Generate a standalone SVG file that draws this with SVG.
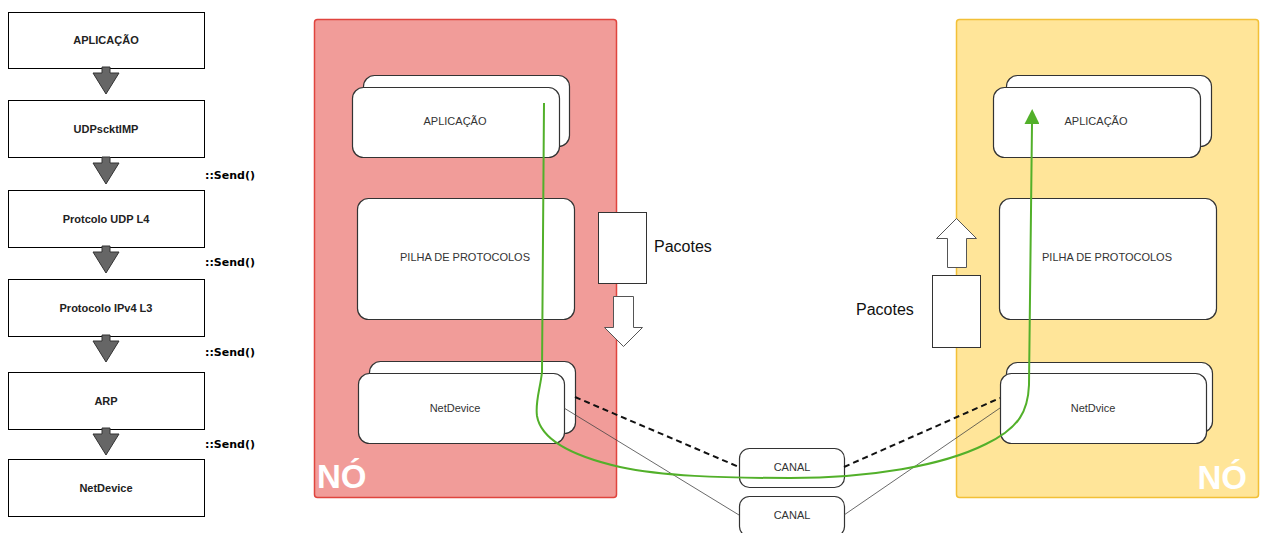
<svg xmlns="http://www.w3.org/2000/svg" width="1264" height="533" viewBox="0 0 1264 533">
  <style>
    .layer { fill: #ffffff; stroke: #000000; stroke-width: 1; }
    .layer-label { font-family: "Liberation Sans", Arial, sans-serif; font-size: 11px; font-weight: bold; fill: #222222; text-anchor: middle; }
    .call { font-family: "DejaVu Sans", Verdana, sans-serif; font-size: 11px; font-weight: bold; fill: #000000; }
    .step { fill: #666666; stroke: #333333; stroke-width: 1; stroke-linejoin: miter; }
    .box { fill: #ffffff; stroke: #333333; stroke-width: 1.2; }
    .box-label { font-family: "Liberation Sans", Arial, sans-serif; font-size: 11px; fill: #333333; text-anchor: middle; }
    .node-title { font-family: "Liberation Sans", Arial, sans-serif; font-size: 33px; font-weight: bold; fill: #ffffff; }
    .pkt { fill: #ffffff; stroke: #333333; stroke-width: 1; }
    .pkt-label { font-family: "Liberation Sans", Arial, sans-serif; font-size: 16px; fill: #111111; }
    .flow-arrow { fill: #ffffff; stroke: #555555; stroke-width: 1; }
    .link-dash { fill: none; stroke: #111111; stroke-width: 2; stroke-dasharray: 6 4; }
    .link-thin { fill: none; stroke: #444444; stroke-width: 0.8; }
    .path-green { fill: none; stroke: #52b02a; stroke-width: 2; }
  </style>
  <defs>
    <polygon id="step-arrow" class="step" points="-4,0 4,0 4,6 13,6 0,27 -13,6 -4,6"/>
    <marker id="green-head" viewBox="0 0 10 10" refX="0" refY="5" markerWidth="15" markerHeight="15" markerUnits="userSpaceOnUse" orient="auto">
      <path d="M0,0 L10,5 L0,10 z" fill="#52b02a"/>
    </marker>
  </defs>

  <!-- Send path through the stack -->
  <g id="send-stack">
    <g id="layer-app"><rect class="layer" x="8.5" y="12.5" width="196" height="56"/><text class="layer-label" x="106" y="44">APLICAÇÃO</text></g>
    <g id="layer-udpsocket"><rect class="layer" x="8.5" y="100.5" width="196" height="57"/><text class="layer-label" x="106" y="133">UDPscktIMP</text></g>
    <g id="layer-udp"><rect class="layer" x="8.5" y="190.5" width="196" height="57"/><text class="layer-label" x="106" y="223">Protcolo UDP L4</text></g>
    <g id="layer-ipv4"><rect class="layer" x="8.5" y="279.5" width="196" height="57"/><text class="layer-label" x="106" y="312">Protocolo IPv4 L3</text></g>
    <g id="layer-arp"><rect class="layer" x="8.5" y="372.5" width="196" height="57"/><text class="layer-label" x="106" y="405">ARP</text></g>
    <g id="layer-netdevice"><rect class="layer" x="8.5" y="459.5" width="196" height="57"/><text class="layer-label" x="106" y="492">NetDevice</text></g>
    <g id="layer-steps">
      <use href="#step-arrow" x="106" y="67"/>
      <use href="#step-arrow" x="106" y="157"/>
      <use href="#step-arrow" x="106" y="246"/>
      <use href="#step-arrow" x="106" y="335"/>
      <use href="#step-arrow" x="106" y="428"/>
    </g>
    <text class="call" x="205" y="179">::Send()</text>
    <text class="call" x="205" y="266">::Send()</text>
    <text class="call" x="205" y="356">::Send()</text>
    <text class="call" x="205" y="448">::Send()</text>
  </g>

  <!-- Sending node -->
  <g id="node-a">
    <rect x="314.5" y="19.5" width="302" height="478" rx="3" fill="#f19c99" stroke="#e0443e" stroke-width="1.5"/>
    <text class="node-title" x="317" y="488">NÓ</text>
  </g>
  <g id="node-a-app">
    <rect class="box" x="363.5" y="75.5" width="206" height="71" rx="11"/>
    <rect class="box" x="352.5" y="87.5" width="207" height="70" rx="11"/>
    <text class="box-label" x="455" y="125">APLICAÇÃO</text>
  </g>
  <g id="node-a-stack">
    <rect class="box" x="357.5" y="198.5" width="217" height="121" rx="11"/>
    <text class="box-label" x="465" y="261">PILHA DE PROTOCOLOS</text>
  </g>
  <g id="node-a-netdev">
    <rect class="box" x="369.5" y="361.5" width="206" height="72" rx="11"/>
    <rect class="box" x="358.5" y="373.5" width="206" height="70" rx="11"/>
    <text class="box-label" x="455" y="412">NetDevice</text>
  </g>

  <!-- Receiving node -->
  <g id="node-b">
    <rect x="956.5" y="19.5" width="302" height="478" rx="3" fill="#ffe599" stroke="#f2c037" stroke-width="1.5"/>
    <text class="node-title" x="1247" y="489" text-anchor="end">NÓ</text>
  </g>
  <g id="node-b-app">
    <rect class="box" x="1006.5" y="75.5" width="205" height="71" rx="11"/>
    <rect class="box" x="993.5" y="87.5" width="207" height="70" rx="11"/>
    <text class="box-label" x="1096" y="125">APLICAÇÃO</text>
  </g>
  <g id="node-b-stack">
    <rect class="box" x="999.5" y="198.5" width="217" height="121" rx="11"/>
    <text class="box-label" x="1107" y="261">PILHA DE PROTOCOLOS</text>
  </g>
  <g id="node-b-netdev">
    <rect class="box" x="1006.5" y="362.5" width="206" height="70" rx="11"/>
    <rect class="box" x="1000.5" y="373.5" width="206" height="70" rx="11"/>
    <text class="box-label" x="1093" y="412">NetDvice</text>
  </g>

  <!-- Packets leaving / arriving -->
  <g id="packets-tx">
    <rect class="pkt" x="598.5" y="212.5" width="48" height="71"/>
    <text class="pkt-label" x="654" y="252">Pacotes</text>
    <polygon class="flow-arrow" points="613.5,296.5 633.5,296.5 633.5,327.5 642.5,327.5 623.5,346.5 604.5,327.5 613.5,327.5"/>
  </g>
  <g id="packets-rx">
    <rect class="pkt" x="932.5" y="275.5" width="48" height="72"/>
    <text class="pkt-label" x="856" y="315">Pacotes</text>
    <polygon class="flow-arrow" points="947.5,267.5 966.5,267.5 966.5,238.5 976.5,238.5 956.5,218.5 936.5,238.5 947.5,238.5"/>
  </g>

  <!-- Channels -->
  <g id="canal-1">
    <rect class="box" x="739.5" y="448.5" width="105" height="39" rx="10"/>
    <text class="box-label" x="792" y="471">CANAL</text>
  </g>
  <g id="canal-2">
    <rect class="box" x="739.5" y="496.5" width="105" height="40" rx="10"/>
    <text class="box-label" x="792" y="519">CANAL</text>
  </g>

  <!-- Links and packet route -->
  <g id="connectors">
    <path class="link-dash" d="M575,397 L739,467"/>
    <path class="link-dash" d="M844,467 L1000,398"/>
    <path class="link-thin" d="M564,408 L739,515"/>
    <path class="link-thin" d="M844,515 L1000,408"/>
    <path class="path-green" marker-end="url(#green-head)" d="M544,103 L542,372 C540,390 535,402 537,416 C541,440 572,456 620,467 C662,476 720,478 790,478 C870,478 942,466 986,444 C1020,428 1028,410 1029,385 L1032,124"/>
  </g>
</svg>
